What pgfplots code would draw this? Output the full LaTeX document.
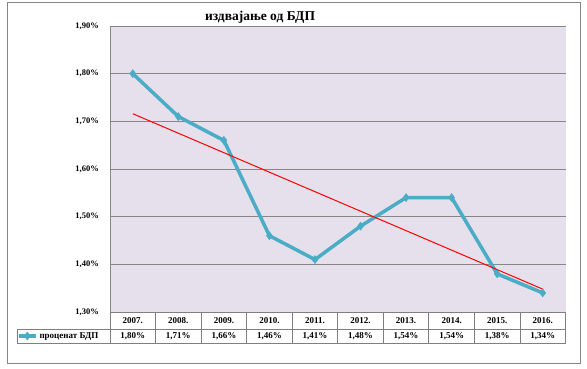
\documentclass[border=0pt]{standalone}
\usepackage{pgfplots}
\pgfplotsset{compat=1.18}
\usepackage{fontspec}
\setmainfont{Liberation Serif}
\definecolor{plotbg}{HTML}{E5E0EC}
\definecolor{ser}{HTML}{4BACC6}
\definecolor{gridc}{HTML}{868686}
\definecolor{tabc}{HTML}{7F7F7F}
\begin{document}
\begin{tikzpicture}[x=1pt,y=1pt]
\useasboundingbox (0,0) rectangle (587,368);
\fill[white] (0,0) rectangle (587,368);
\draw[gridc, line width=1pt] (7,5) rectangle (580,366);
\node[font=\bfseries\fontsize{13.5}{15}\selectfont] at (260,351) {издвајање од БДП};
\begin{axis}[at={(110pt,56pt)}, anchor=south west, scale only axis,
  width=455.5pt, height=286pt,
  xmin=-0.5, xmax=9.5, ymin=1.30, ymax=1.90,
  axis background/.style={fill=plotbg},
  axis line style={draw=none},
  clip=false,
  major tick length=0pt,
  xtick={0,1,2,3,4,5,6,7,8,9},
  xticklabels={2007.,2008.,2009.,2010.,2011.,2012.,2013.,2014.,2015.,2016.},
  ytick={1.3,1.4,1.5,1.6,1.7,1.8,1.9},
  yticklabels={{1,30\%},{1,40\%},{1,50\%},{1,60\%},{1,70\%},{1,80\%},{1,90\%}},
  ymajorgrids, grid style={gridc, line width=0.8pt},
  y tick label style={font=\bfseries\fontsize{8.5}{10}\selectfont, anchor=east, inner sep=0pt, xshift=-11pt},
  x tick label style={font=\bfseries\fontsize{9}{10}\selectfont, anchor=center, inner sep=0pt, yshift=-8.5pt},
  legend style={at={(rel axis cs:-0.2042,-0.0839)}, anchor=west, draw=none, fill=none,
    inner sep=0pt, outer sep=0pt, font=\bfseries\fontsize{9}{10}\selectfont,
    /tikz/every even column/.append style={column sep=1pt}},
  legend cell align=left,
]
\draw[gridc, line width=0.8pt] (rel axis cs:0,0) -- (rel axis cs:0,1);
\addplot[ser, line width=3.5pt, mark=diamond*, mark size=4pt,
  mark options={fill=ser, draw=ser, line width=0.5pt}]
  coordinates {(0,1.80)(1,1.71)(2,1.66)(3,1.46)(4,1.41)(5,1.48)(6,1.54)(7,1.54)(8,1.38)(9,1.34)};
\addlegendentry{проценат БДП}
\addplot[red, line width=1pt, forget plot] coordinates {(0,1.716)(9,1.348)};
\tikzset{vl/.style={font=\bfseries\fontsize{9}{10}\selectfont, inner sep=0pt, yshift=-24pt}}
\node[vl] at (axis cs:0,1.30) {1,80\%};
\node[vl] at (axis cs:1,1.30) {1,71\%};
\node[vl] at (axis cs:2,1.30) {1,66\%};
\node[vl] at (axis cs:3,1.30) {1,46\%};
\node[vl] at (axis cs:4,1.30) {1,41\%};
\node[vl] at (axis cs:5,1.30) {1,48\%};
\node[vl] at (axis cs:6,1.30) {1,54\%};
\node[vl] at (axis cs:7,1.30) {1,54\%};
\node[vl] at (axis cs:8,1.30) {1,38\%};
\node[vl] at (axis cs:9,1.30) {1,34\%};
\end{axis}
\begin{scope}[tabc, line width=0.8pt]
\foreach \k in {0,...,10} { \draw ({110+45.55*\k},25) -- ({110+45.55*\k},56); }
\draw (110,56) -- (565.5,56);
\draw (17,39) -- (565.5,39);
\draw (17,25) -- (565.5,25);
\draw (17,25) -- (17,39);
\end{scope}
\end{tikzpicture}
\end{document}
